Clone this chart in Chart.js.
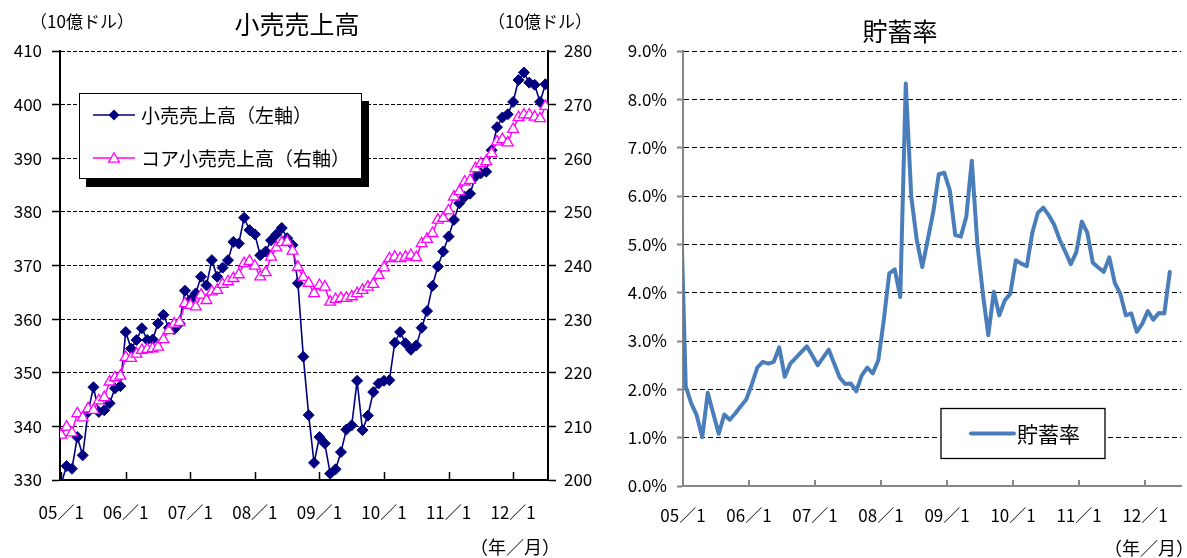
<!DOCTYPE html>
<html><head><meta charset="utf-8">
<script src="https://cdn.jsdelivr.net/npm/chart.js@4.4.1/dist/chart.umd.min.js"></script>
<style>
html,body{margin:0;padding:0;background:#fff;}
body{width:1187px;height:558px;position:relative;overflow:hidden;font-family:'Noto Sans CJK JP','Noto Sans',sans-serif;color:#000;}
canvas{position:absolute;top:0;}
#c1{left:0;}
#c2{left:600px;}
.t{position:absolute;transform:translate(-50%,-50%);white-space:nowrap;line-height:1;}
</style></head>
<body>
<canvas id="c1" width="600" height="558"></canvas>
<canvas id="c2" width="587" height="558"></canvas>
<div class="t" style="left:297px;top:23px;font-size:25px">小売売上高</div>
<div class="t" style="left:82px;top:20px;font-size:17px">（10億ドル）</div>
<div class="t" style="left:540px;top:20px;font-size:17px">（10億ドル）</div>
<div class="t" style="left:515px;top:546px;font-size:18px">（年／月）</div>
<div class="t" style="left:900px;top:30px;font-size:25px">貯蓄率</div>
<div class="t" style="left:1149px;top:547px;font-size:18px">（年／月）</div>
<script>
// ---- data (monthly, 2005/1 onward) ----
const xTickLabels = ['05／1','06／1','07／1','08／1','09／1','10／1','11／1','12／1'];
const retailSales = [
 329.3,332.6,332.1,338.0,334.6,342.7,347.3,342.7,343.0,344.3,347.1,347.5,
 357.6,354.5,356.1,358.3,356.1,356.2,359.2,360.8,358.4,358.1,359.2,365.3,
 363.6,364.8,367.9,366.3,371.0,367.9,369.6,371.0,374.4,374.1,378.9,376.6,
 375.8,371.9,372.6,374.7,375.8,377.0,375.1,373.8,366.7,353.0,342.1,333.2,
 338.0,336.8,331.2,332.0,335.2,339.4,340.2,348.5,339.3,342.0,346.4,348.0,
 348.5,348.6,355.6,357.6,355.5,354.3,355.1,358.4,361.5,366.2,369.8,372.6,
 375.4,378.5,381.6,382.8,383.4,386.6,387.2,387.5,391.5,395.8,397.6,398.2,
 400.5,404.6,406.0,404.1,403.7,400.5,403.8];
const coreRetailSales = [
 208.4,209.9,208.8,212.4,211.6,213.3,213.0,214.8,215.4,218.3,219.1,219.4,
 222.9,222.7,223.5,224.2,224.4,224.5,224.8,226.2,227.9,229.1,229.4,232.9,
 232.6,232.3,234.5,233.5,235.1,235.4,236.5,237.0,237.6,238.3,240.4,240.8,
 239.9,237.9,238.7,241.6,243.3,244.3,244.4,242.7,239.7,237.8,236.7,234.8,
 236.3,236.0,233.2,233.7,233.9,233.9,234.2,234.8,235.4,236.0,236.5,238.2,
 239.6,241.3,241.6,241.3,241.6,241.9,241.5,244.1,244.9,246.0,248.5,248.8,
 250.2,252.8,253.8,255.6,255.9,258.1,259.0,259.4,260.9,263.1,263.5,262.9,
 265.4,267.6,268.1,268.1,267.7,267.4,269.7];
// savings rate (%), series begins 2004/12
const savingsStartMonth = -1;
const savingsRate = [
 6.2,
 2.06,1.71,1.46,1.01,1.93,1.50,1.08,1.48,1.37,1.50,1.65,1.79,
 2.10,2.45,2.57,2.53,2.57,2.87,2.26,2.53,2.65,2.77,2.89,2.70,
 2.50,2.66,2.82,2.53,2.24,2.11,2.12,1.96,2.29,2.45,2.33,2.60,
 3.43,4.40,4.48,3.91,8.33,5.98,5.09,4.53,5.10,5.67,6.45,6.48,
 6.12,5.19,5.16,5.57,6.73,5.02,4.00,3.12,4.02,3.53,3.84,3.98,
 4.67,4.60,4.55,5.24,5.65,5.76,5.60,5.40,5.09,4.85,4.59,4.84,
 5.47,5.24,4.62,4.52,4.43,4.73,4.20,3.98,3.53,3.57,3.19,3.36,
 3.62,3.44,3.58,3.57,4.43];
const leftLabels = {retail:'小売売上高（左軸）', core:'コア小売売上高（右軸）'};
const rightLabel = '貯蓄率';

// ---- styling ----
const FONT = "'Noto Sans CJK JP','Noto Sans',sans-serif";
const NAVY = '#000080', MAG = '#FF00FF', BLUE = '#4A7EBB', GRAY = '#868686';
const tickFont = {family: FONT, size: 17};

function diamond(ctx, x, y, r){ctx.beginPath();ctx.moveTo(x-r,y);ctx.lineTo(x,y-r);ctx.lineTo(x+r,y);ctx.lineTo(x,y+r);ctx.closePath();}
function triangle(ctx, x, y, r){ctx.beginPath();ctx.moveTo(x,y-r);ctx.lineTo(x+0.866*r,y+0.5*r);ctx.lineTo(x-0.866*r,y+0.5*r);ctx.closePath();}

function yearTicks(scale){ scale.ticks = xTickLabels.map((l,k)=>({value:k*12})); }

const innerTicks = (color, width, len) => ({
  id:'innerTicks',
  beforeDatasetsDraw(chart){
    const {ctx, chartArea, scales:{x}} = chart;
    ctx.save(); ctx.strokeStyle=color; ctx.lineWidth=width;
    x.ticks.forEach(t=>{
      const px = Math.round(x.getPixelForValue(t.value)) + (width%2?0.5:0);
      ctx.beginPath(); ctx.moveTo(px, chartArea.bottom); ctx.lineTo(px, chartArea.bottom-len); ctx.stroke();
    });
    ctx.restore();
  }
});

const leftLegend = {
  id:'leftLegend',
  afterDraw(chart){
    const ctx = chart.ctx;
    ctx.save();
    ctx.fillStyle='#000'; ctx.fillRect(86,101,283,86);
    ctx.fillStyle='#fff'; ctx.fillRect(79.5,93.5,282,85);
    ctx.strokeStyle='#000'; ctx.lineWidth=1; ctx.strokeRect(79.5,93.5,282,85);
    const rows = [
      {y:115, color:NAVY, text:leftLabels.retail, mark:'d'},
      {y:158, color:MAG, text:leftLabels.core, mark:'t'}
    ];
    ctx.font = `19px ${FONT}`; ctx.textBaseline='middle'; ctx.textAlign='left';
    rows.forEach(r=>{
      ctx.strokeStyle=r.color; ctx.lineWidth=1.5;
      ctx.beginPath(); ctx.moveTo(93,r.y); ctx.lineTo(135,r.y); ctx.stroke();
      if(r.mark==='d'){ctx.fillStyle=NAVY; diamond(ctx,114,r.y,5.5); ctx.fill();}
      else {ctx.fillStyle='#fff'; triangle(ctx,114,r.y+1,6.3); ctx.fill(); ctx.lineWidth=1.3; ctx.stroke();}
      ctx.fillStyle='#000'; ctx.fillText(r.text,141,r.y+1);
    });
    ctx.restore();
  }
};

const rightLegend = {
  id:'rightLegend',
  afterDraw(chart){
    const ctx = chart.ctx;
    ctx.save();
    ctx.fillStyle='#fff'; ctx.fillRect(341,408.5,164,50);
    ctx.strokeStyle='#000'; ctx.lineWidth=1.3; ctx.strokeRect(341,408.5,164,50);
    ctx.strokeStyle=BLUE; ctx.lineWidth=4; ctx.lineCap='round';
    ctx.beginPath(); ctx.moveTo(371,433.5); ctx.lineTo(414,433.5); ctx.stroke();
    ctx.fillStyle='#000'; ctx.font=`21px ${FONT}`; ctx.textBaseline='middle'; ctx.textAlign='left';
    ctx.fillText(rightLabel,417,434);
    ctx.restore();
  }
};

// ---- left chart ----
new Chart(document.getElementById('c1'), {
  type:'line',
  data:{datasets:[
    {label:leftLabels.core, data:coreRetailSales.map((v,i)=>({x:i,y:v})), yAxisID:'y2',
     borderColor:MAG, borderWidth:1.5, pointStyle:'triangle', pointRadius:6.3, pointBorderColor:MAG,
     pointBackgroundColor:'#fff', pointBorderWidth:1.3, tension:0, order:1},
    {label:leftLabels.retail, data:retailSales.map((v,i)=>({x:i,y:v})), yAxisID:'y',
     borderColor:NAVY, borderWidth:1.6, pointStyle:'rectRot', pointRadius:5.5, pointBorderColor:NAVY,
     pointBackgroundColor:NAVY, pointBorderWidth:1, tension:0, order:2}
  ]},
  options:{
    responsive:false, animation:false, events:[],
    layout:{padding:{top:51,left:0,right:0,bottom:0}},
    plugins:{legend:{display:false}, tooltip:{enabled:false}, title:{display:false}},
    scales:{
      x:{type:'linear', min:-0.22, max:90.48, afterBuildTicks:yearTicks,
         ticks:{callback:(v,i)=>xTickLabels[i], font:tickFont, color:'#000', padding:22, maxRotation:0, autoSkip:false},
         grid:{display:false, drawTicks:false}, border:{color:'#000', width:2},
         afterFit:s=>{s.height=78;}},
      y:{position:'left', min:330, max:410,
         ticks:{stepSize:10, font:tickFont, color:'#000', padding:10},
         grid:{color:'#000', lineWidth:1, tickLength:8, tickColor:'#000', tickWidth:1.5},
         border:{color:'#000', width:2, dash:[4,2]},
         afterFit:s=>{s.width=60;}},
      y2:{position:'right', min:200, max:280,
         ticks:{stepSize:10, font:tickFont, color:'#000', padding:8},
         grid:{drawOnChartArea:false, tickLength:8, tickColor:'#000', tickWidth:1.5},
         border:{color:'#000', width:2},
         afterFit:s=>{s.width=52;}}
    }
  },
  plugins:[innerTicks('#000',1.5,8), leftLegend]
});

// ---- right chart ----
new Chart(document.getElementById('c2'), {
  type:'line',
  data:{datasets:[
    {label:rightLabel, data:savingsRate.map((v,i)=>({x:i+savingsStartMonth+0.5,y:v})),
     borderColor:BLUE, borderWidth:4, pointRadius:0, tension:0, clip:0,
     borderJoinStyle:'round', borderCapStyle:'round'}
  ]},
  options:{
    responsive:false, animation:false, events:[],
    layout:{padding:{top:51,left:0,right:4,bottom:0}},
    plugins:{legend:{display:false}, tooltip:{enabled:false}, title:{display:false}},
    scales:{
      x:{type:'linear', min:0, max:90.6, afterBuildTicks:yearTicks,
         ticks:{callback:(v,i)=>xTickLabels[i], font:tickFont, color:'#000', padding:19, maxRotation:0, autoSkip:false},
         grid:{display:false, drawTicks:false}, border:{color:GRAY, width:2},
         afterFit:s=>{s.height=72;}},
      y:{min:0, max:9,
         ticks:{stepSize:1, callback:v=>v.toFixed(1)+'%', font:tickFont, color:'#000', padding:10},
         grid:{color:c=>c.tick && c.tick.value===0?'rgba(0,0,0,0)':'#000', lineWidth:1, tickLength:6, tickColor:GRAY, tickWidth:2},
         border:{color:GRAY, width:2, dash:[5,3]},
         afterFit:s=>{s.width=83;}}
    }
  },
  plugins:[innerTicks(GRAY,2,6), rightLegend]
});
</script>
</body></html>
